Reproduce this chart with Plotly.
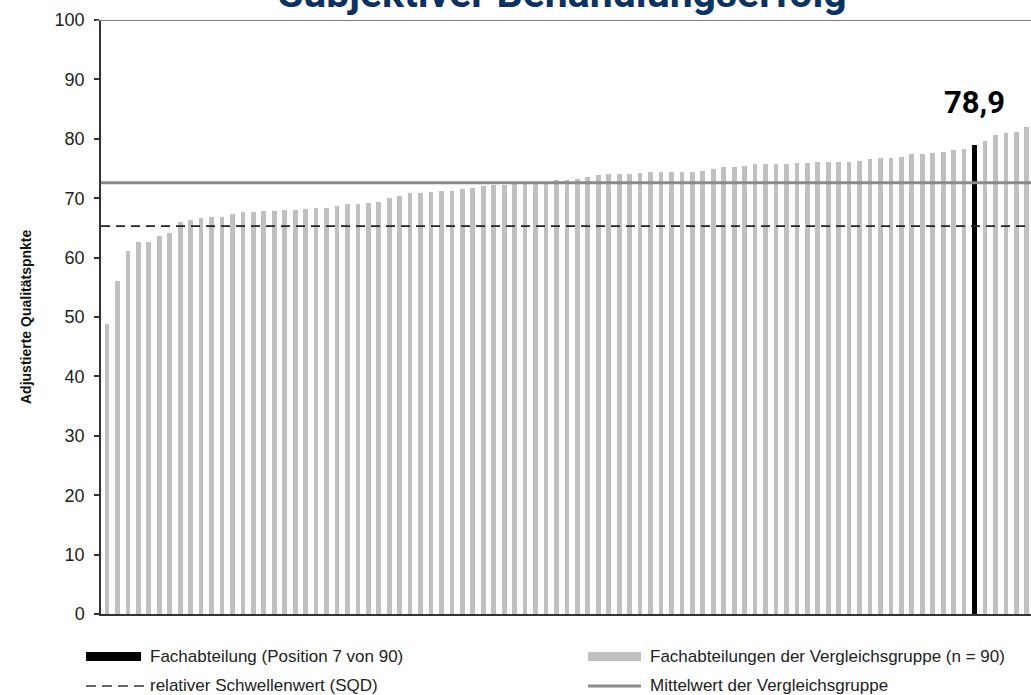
import plotly.graph_objects as go

# ---------------- data ----------------
values = [
    48.8, 56.0, 61.1, 62.7, 62.7, 63.7, 64.1, 66.0, 66.4, 66.6,
    66.9, 66.9, 67.3, 67.7, 67.7, 67.9, 67.9, 68.0, 68.0, 68.2,
    68.35, 68.4, 68.7, 69.0, 69.1, 69.2, 69.4, 70.1, 70.4, 70.8,
    70.8, 71.1, 71.2, 71.2, 71.5, 71.8, 72.0, 72.2, 72.3, 72.4,
    72.5, 72.6, 72.7, 73.0, 73.1, 73.2, 73.6, 73.9, 74.0, 74.1,
    74.1, 74.2, 74.4, 74.4, 74.4, 74.4, 74.4, 74.6, 74.9, 75.2,
    75.2, 75.5, 75.7, 75.7, 75.8, 75.8, 76.0, 76.0, 76.1, 76.1,
    76.1, 76.1, 76.3, 76.6, 76.7, 76.8, 76.9, 77.4, 77.5, 77.6,
    77.8, 78.1, 78.3, 78.9, 79.6, 80.6, 81.0, 81.2, 82.0, 83.0,
]
own_index = 83          # Fachabteilung (Position 7 von 90)
own_label = "78,9"
mean_value = 72.6       # Mittelwert der Vergleichsgruppe
threshold_value = 65.3  # relativer Schwellenwert (SQD)
y_ticks = [0, 10, 20, 30, 40, 50, 60, 70, 80, 90, 100]

title_text = "Subjektiver Behandlungserfolg"
y_title = "Adjustierte Qualitätspnkte"
legend_texts = [
    "Fachabteilung (Position 7 von 90)",
    "Fachabteilungen der Vergleichsgruppe (n = 90)",
    "relativer Schwellenwert (SQD)",
    "Mittelwert der Vergleichsgruppe",
]

# ---------------- styling ----------------
GRAY_BAR = "#c0c0c0"
BLACK = "#000000"
MEAN_COL = "#8a8a8a"
NAVY = "#0b3260"
FONT = "Liberation Sans, Arial, sans-serif"

x = list(range(len(values)))
colors = [BLACK if i == own_index else GRAY_BAR for i in x]

fig = go.Figure()
fig.add_trace(go.Bar(
    x=x, y=values, marker=dict(color=colors, line=dict(width=0)),
    width=0.45, showlegend=False, hoverinfo="skip",
))

W, H = 1031, 695
ml, mr, mt, mb = 101, 0, 20, 81
pw = W - ml - mr
ph = H - mt - mb

def px_x(px):
    return (px - ml) / pw

def px_y(py):
    return (H - mb - py) / ph

shapes = []
# top border at 100
shapes.append(dict(type="line", xref="paper", yref="y", x0=px_x(96), x1=1, y0=100, y1=100,
                   line=dict(color="#7a7a7a", width=2)))
# mean line
shapes.append(dict(type="line", xref="paper", yref="y", x0=0, x1=1, y0=mean_value, y1=mean_value,
                   line=dict(color=MEAN_COL, width=3)))
# threshold line
shapes.append(dict(type="line", xref="paper", yref="y", x0=0, x1=1, y0=threshold_value, y1=threshold_value,
                   line=dict(color="#222222", width=1.6, dash="9px,6px")))

# legend marks
shapes.append(dict(type="rect", xref="paper", yref="paper", x0=px_x(86), x1=px_x(141),
                   y0=px_y(661), y1=px_y(652), fillcolor=BLACK, line=dict(width=0)))
shapes.append(dict(type="rect", xref="paper", yref="paper", x0=px_x(588), x1=px_x(641),
                   y0=px_y(661), y1=px_y(652), fillcolor=GRAY_BAR, line=dict(width=0)))
shapes.append(dict(type="line", xref="paper", yref="paper", x0=px_x(86), x1=px_x(145),
                   y0=px_y(686), y1=px_y(686), line=dict(color="#333333", width=1.6, dash="10px,6px")))
shapes.append(dict(type="line", xref="paper", yref="paper", x0=px_x(588), x1=px_x(641),
                   y0=px_y(686), y1=px_y(686), line=dict(color=MEAN_COL, width=3)))

annotations = []
annotations.append(dict(text=f"<b>{title_text}</b>", xref="paper", yref="paper",
                        x=px_x(562), y=px_y(19), xanchor="center", yanchor="bottom",
                        showarrow=False, font=dict(family="Roboto, sans-serif", size=41, color=NAVY)))
annotations.append(dict(text=f"<b>{own_label}</b>", xref="x", yref="y",
                        x=own_index, y=values[own_index], xanchor="center", yanchor="bottom",
                        yshift=22, showarrow=False,
                        font=dict(family="Roboto, sans-serif", size=31, color=BLACK)))
annotations.append(dict(text=f"<b>{y_title}</b>", xref="paper", yref="paper",
                        x=px_x(26), y=0.5, xanchor="center", yanchor="middle", textangle=-90,
                        showarrow=False, font=dict(family=FONT, size=14, color="#111111")))
leg_pos = [(148, 656), (648, 656), (148, 685), (648, 685)]
for t, (lx, ly) in zip(legend_texts, leg_pos):
    annotations.append(dict(text=t, xref="paper", yref="paper", x=px_x(lx), y=px_y(ly),
                            xanchor="left", yanchor="middle", showarrow=False,
                            font=dict(family=FONT, size=17, color="#222222")))

fig.update_layout(
    width=W, height=H,
    margin=dict(l=ml, r=mr, t=mt, b=mb),
    paper_bgcolor="white", plot_bgcolor="white",
    bargap=0,
    shapes=shapes, annotations=annotations,
    xaxis=dict(range=[-0.574, 88.4], showticklabels=False, ticks="", showgrid=False,
               zeroline=False, showline=True, linecolor="#333333", linewidth=1.5,
               layer="below traces"),
    yaxis=dict(range=[0, 100], tickvals=y_ticks, ticktext=[str(v) for v in y_ticks],
               showgrid=False, zeroline=False, showline=True, linecolor="#333333", linewidth=1.5,
               ticks="outside", ticklen=5, tickcolor="#333333", tickwidth=1.5,
               tickfont=dict(family=FONT, size=18, color="#222222"), ticklabelstandoff=6),
)

fig.write_html(
    "out.html",
    config={"displayModeBar": False},
    post_script="document.body.style.margin='0';document.body.style.overflow='hidden';",
)
